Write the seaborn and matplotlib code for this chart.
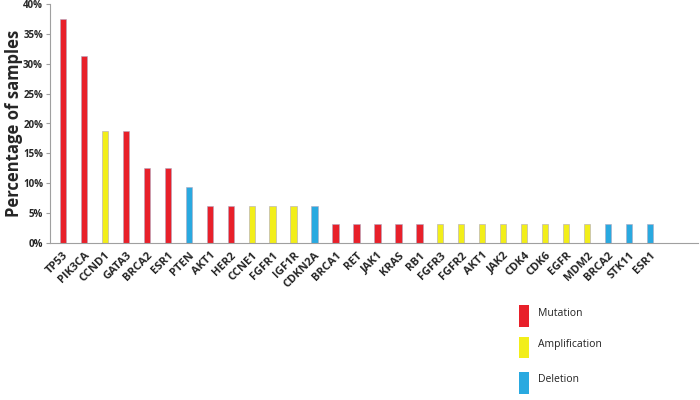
import matplotlib
matplotlib.use("Agg")
import matplotlib.pyplot as plt
import seaborn as sns
import pandas as pd
from matplotlib.patches import Rectangle
from matplotlib.ticker import PercentFormatter

genes = ["TP53", "PIK3CA", "CCND1", "GATA3", "BRCA2", "ESR1", "PTEN", "AKT1", "HER2",
         "CCNE1", "FGFR1", "IGF1R", "CDKN2A", "BRCA1", "RET", "JAK1", "KRAS", "RB1",
         "FGFR3", "FGFR2", "AKT1", "JAK2", "CDK4", "CDK6", "EGFR", "MDM2", "BRCA2",
         "STK11", "ESR1"]
alteration = ["Mutation", "Mutation", "Amplification", "Mutation", "Mutation", "Mutation",
              "Deletion", "Mutation", "Mutation", "Amplification", "Amplification",
              "Amplification", "Deletion", "Mutation", "Mutation", "Mutation", "Mutation",
              "Mutation", "Amplification", "Amplification", "Amplification", "Amplification",
              "Amplification", "Amplification", "Amplification", "Amplification",
              "Deletion", "Deletion", "Deletion"]
percent = [37.5, 31.25, 18.75, 18.75, 12.5, 12.5, 9.375, 6.25, 6.25, 6.25, 6.25, 6.25, 6.25,
           3.125, 3.125, 3.125, 3.125, 3.125, 3.125, 3.125, 3.125, 3.125, 3.125, 3.125,
           3.125, 3.125, 3.125, 3.125, 3.125]

palette = {"Mutation": "#E8202A", "Amplification": "#F2EE1A", "Deletion": "#29A9E0"}

df = pd.DataFrame({"pos": [f"{i}_{g}" for i, g in enumerate(genes)],
                   "gene": genes, "type": alteration, "pct": percent})

sns.set_style("white")
fig = plt.figure(figsize=(7, 4), dpi=100)
ax = fig.add_axes([0.0714, 0.3925, 0.926, 0.5975])

sns.barplot(data=df, x="pos", y="pct", hue="type", palette=palette, dodge=False,
            width=0.3, legend=False, ax=ax, edgecolor="#B0A8C0", linewidth=0.4,
            saturation=1)

ax.set_ylim(0, 40)
ax.set_xlim(-0.62, len(genes) + 1.3)
ax.set_yticks(range(0, 41, 5))
ax.yaxis.set_major_formatter(PercentFormatter(decimals=0))
ax.set_xticks(range(len(genes)))
ax.set_xticklabels(genes, rotation=45, ha="right", rotation_mode="anchor",
                   fontsize=8, fontweight="bold", family="Open Sans")
for lab in ax.get_yticklabels():
    lab.set_fontsize(7)
    lab.set_fontweight("bold")
    lab.set_family("Open Sans")
ax.set_xlabel("")
ax.set_ylabel("Percentage of samples", fontsize=12, fontweight="bold", family="Open Sans")
ax.yaxis.set_label_coords(-0.042, 0.5)

for s in ["top", "right"]:
    ax.spines[s].set_visible(False)
for s in ["left", "bottom"]:
    ax.spines[s].set_color("#A0A0A0")
    ax.spines[s].set_linewidth(0.8)
ax.tick_params(axis="y", length=3, color="#A0A0A0", pad=2, left=True)
ax.tick_params(axis="x", length=0, pad=5)

# legend (manual, as in reference)
legend_items = [("Mutation", 305, 327), ("Amplification", 337, 358), ("Deletion", 372, 394)]
for name, ytop, ybot in legend_items:
    x0 = 519 / 700
    w = 10 / 700
    fig.add_artist(Rectangle((x0, 1 - ybot / 400), w, (ybot - ytop) / 400,
                             transform=fig.transFigure, facecolor=palette[name],
                             edgecolor="none"))
    fig.text(538 / 700, 1 - (ytop + 8) / 400, name, fontsize=7.5, family="Open Sans",
             va="center", ha="left", color="#222222")

fig.savefig("out.png", dpi=100)
